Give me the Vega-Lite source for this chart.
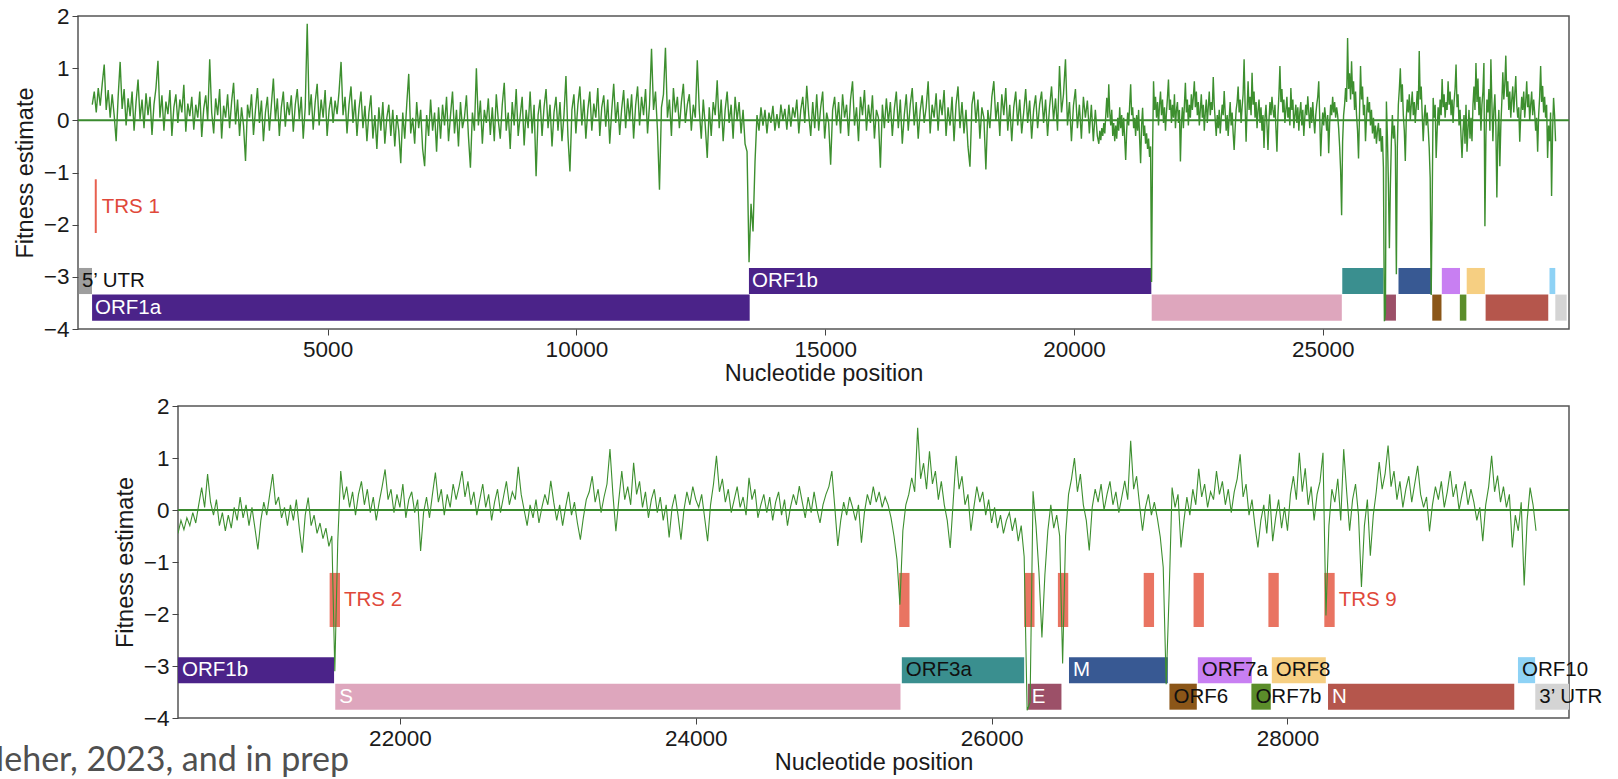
{
"$schema":"https://vega.github.io/schema/vega-lite/v6.json",
"background":"white",
"padding":{"left":-22,"top":4,"right":5,"bottom":0},
"spacing":8,
"config":{
"view":{"stroke":"#555","strokeWidth":1.5},
"axis":{"labelFont":"Liberation Sans","titleFont":"Liberation Sans","labelFontSize":22.5,"titleFontSize":23.5,"labelColor":"#1a1a1a","titleColor":"#1a1a1a","titleFontWeight":"normal","grid":false,"domain":false,"tickColor":"#444","tickSize":6,"labelPadding":3,"labelOverlap":false},
"text":{"font":"Liberation Sans"}
},
"datasets":{
"genes":[
{"g":"5’ UTR","s":1,"e":265,"lane":"upper"},
{"g":"ORF1a","s":266,"e":13483,"lane":"lower"},
{"g":"ORF1b","s":13468,"e":21555,"lane":"upper"},
{"g":"S","s":21563,"e":25384,"lane":"lower"},
{"g":"ORF3a","s":25393,"e":26220,"lane":"upper"},
{"g":"E","s":26245,"e":26472,"lane":"lower"},
{"g":"M","s":26523,"e":27191,"lane":"upper"},
{"g":"ORF6","s":27202,"e":27387,"lane":"lower"},
{"g":"ORF7a","s":27394,"e":27759,"lane":"upper"},
{"g":"ORF7b","s":27756,"e":27887,"lane":"lower"},
{"g":"ORF8","s":27894,"e":28259,"lane":"upper"},
{"g":"N","s":28274,"e":29533,"lane":"lower"},
{"g":"ORF10","s":29558,"e":29674,"lane":"upper"},
{"g":"3’ UTR","s":29675,"e":29903,"lane":"lower"}
],
"trs":[
{"t":"TRS 1","s":320,"e":360},{"t":"TRS 2","s":21525,"e":21595},{"t":"TRS 3","s":25375,"e":25445},{"t":"TRS 4","s":26220,"e":26290},{"t":"TRS 5","s":26448,"e":26518},{"t":"TRS 6","s":27028,"e":27098},{"t":"TRS 7","s":27365,"e":27435},{"t":"TRS 8","s":27871,"e":27941},{"t":"TRS 9","s":28249,"e":28319}
],
"fit":[
{"p":270,"f":0.3},{"p":310,"f":0.55},{"p":350,"f":0.15},{"p":390,"f":0.62},{"p":430,"f":0.28},{"p":470,"f":0.7},{"p":510,"f":1.07},{"p":550,"f":0.2},{"p":590,"f":0.58},{"p":630,"f":0.05},{"p":670,"f":0.5},{"p":710,"f":0.1},{"p":750,"f":-0.4},{"p":790,"f":0.45},{"p":830,"f":1.12},{"p":870,"f":0.22},{"p":910,"f":0.6},{"p":950,"f":-0.1},{"p":990,"f":0.42},{"p":1030,"f":0.08},{"p":1070,"f":0.55},{"p":1110,"f":-0.2},{"p":1150,"f":0.35},{"p":1190,"f":0.78},{"p":1230,"f":0.02},
{"p":1270,"f":0.4},{"p":1310,"f":-0.15},{"p":1350,"f":0.52},{"p":1390,"f":0.1},{"p":1430,"f":0.45},{"p":1470,"f":-0.28},{"p":1510,"f":0.3},{"p":1550,"f":0.62},{"p":1590,"f":1.14},{"p":1630,"f":0.05},{"p":1670,"f":0.48},{"p":1710,"f":-0.2},{"p":1750,"f":0.36},{"p":1790,"f":0.12},{"p":1830,"f":0.58},{"p":1870,"f":-0.3},{"p":1910,"f":0.25},{"p":1950,"f":0.5},{"p":1990,"f":-0.05},{"p":2030,"f":0.4},{"p":2070,"f":0.15},{"p":2110,"f":0.68},{"p":2150,"f":-0.22},{"p":2190,"f":0.32},{"p":2230,"f":0.08},
{"p":2270,"f":0.45},{"p":2310,"f":-0.18},{"p":2350,"f":0.3},{"p":2390,"f":0.05},{"p":2430,"f":0.55},{"p":2470,"f":-0.32},{"p":2510,"f":0.22},{"p":2550,"f":0.48},{"p":2590,"f":0},{"p":2630,"f":1.17},{"p":2670,"f":0.15},{"p":2710,"f":-0.25},{"p":2750,"f":0.42},{"p":2790,"f":0.1},{"p":2830,"f":0.6},{"p":2870,"f":-0.35},{"p":2910,"f":0.28},{"p":2950,"f":0.05},{"p":2990,"f":0.5},{"p":3030,"f":-0.15},{"p":3070,"f":0.35},{"p":3110,"f":0.72},{"p":3150,"f":-0.08},{"p":3190,"f":0.4},{"p":3230,"f":-0.3},
{"p":3270,"f":0.25},{"p":3310,"f":-0.1},{"p":3350,"f":-0.78},{"p":3390,"f":0.3},{"p":3430,"f":0.05},{"p":3470,"f":0.5},{"p":3510,"f":-0.28},{"p":3550,"f":0.2},{"p":3590,"f":0.62},{"p":3630,"f":-0.05},{"p":3670,"f":0.38},{"p":3710,"f":-0.4},{"p":3750,"f":0.15},{"p":3790,"f":0.45},{"p":3830,"f":-0.2},{"p":3870,"f":0.3},{"p":3910,"f":0.8},{"p":3950,"f":0},{"p":3990,"f":0.42},{"p":4030,"f":-0.3},{"p":4070,"f":0.25},{"p":4110,"f":0.55},{"p":4150,"f":-0.12},{"p":4190,"f":0.35},{"p":4230,"f":0.1},
{"p":4270,"f":0.48},{"p":4310,"f":-0.22},{"p":4350,"f":0.3},{"p":4390,"f":0.6},{"p":4430,"f":0.02},{"p":4470,"f":0.45},{"p":4510,"f":-0.35},{"p":4550,"f":0.25},{"p":4590,"f":1.85},{"p":4630,"f":0.1},{"p":4670,"f":0.5},{"p":4710,"f":-0.18},{"p":4750,"f":0.35},{"p":4790,"f":0.7},{"p":4830,"f":-0.1},{"p":4870,"f":0.4},{"p":4910,"f":0.05},{"p":4950,"f":0.58},{"p":4990,"f":-0.3},{"p":5030,"f":0.2},{"p":5070,"f":0.45},{"p":5110,"f":-0.05},{"p":5150,"f":0.38},{"p":5190,"f":0.12},{"p":5230,"f":0.55},
{"p":5270,"f":1.12},{"p":5310,"f":0.1},{"p":5350,"f":0.45},{"p":5390,"f":-0.25},{"p":5430,"f":0.3},{"p":5470,"f":0.65},{"p":5510,"f":-0.05},{"p":5550,"f":0.4},{"p":5590,"f":-0.3},{"p":5630,"f":0.22},{"p":5670,"f":0.55},{"p":5710,"f":-0.15},{"p":5750,"f":0.28},{"p":5790,"f":-0.4},{"p":5830,"f":0.15},{"p":5870,"f":0.48},{"p":5910,"f":-0.35},{"p":5950,"f":0.1},{"p":5990,"f":-0.55},{"p":6030,"f":0.25},{"p":6070,"f":-0.2},{"p":6110,"f":0.35},{"p":6150,"f":-0.45},{"p":6190,"f":0.05},{"p":6230,"f":0.3},
{"p":6270,"f":-0.3},{"p":6310,"f":0.2},{"p":6350,"f":-0.5},{"p":6390,"f":0.1},{"p":6430,"f":-0.2},{"p":6470,"f":-0.82},{"p":6510,"f":0.15},{"p":6550,"f":-0.35},{"p":6590,"f":0.3},{"p":6630,"f":0.89},{"p":6670,"f":-0.25},{"p":6710,"f":0.05},{"p":6750,"f":-0.45},{"p":6790,"f":0.35},{"p":6830,"f":-0.15},{"p":6870,"f":0.2},{"p":6910,"f":-0.55},{"p":6950,"f":-0.88},{"p":6990,"f":0.1},{"p":7030,"f":-0.3},{"p":7070,"f":0.4},{"p":7110,"f":-0.2},{"p":7150,"f":0.15},{"p":7190,"f":-0.6},{"p":7230,"f":0.25},
{"p":7270,"f":-0.35},{"p":7310,"f":0.3},{"p":7350,"f":-0.1},{"p":7390,"f":0.45},{"p":7430,"f":-0.4},{"p":7470,"f":0.1},{"p":7510,"f":0.55},{"p":7550,"f":-0.25},{"p":7590,"f":0.2},{"p":7630,"f":-0.5},{"p":7670,"f":0.35},{"p":7710,"f":-0.15},{"p":7750,"f":0.05},{"p":7790,"f":0.48},{"p":7830,"f":-0.3},{"p":7870,"f":-0.91},{"p":7910,"f":0.15},{"p":7950,"f":-0.2},{"p":7990,"f":1},{"p":8030,"f":-0.1},{"p":8070,"f":0.38},{"p":8110,"f":-0.45},{"p":8150,"f":0.2},{"p":8190,"f":-0.05},{"p":8230,"f":0.42},
{"p":8270,"f":-0.28},{"p":8310,"f":0.25},{"p":8350,"f":-0.4},{"p":8390,"f":0.5},{"p":8430,"f":0},{"p":8470,"f":-0.35},{"p":8510,"f":0.3},{"p":8550,"f":0.72},{"p":8590,"f":-0.2},{"p":8630,"f":0.15},{"p":8670,"f":-0.55},{"p":8710,"f":0.35},{"p":8750,"f":-0.1},{"p":8790,"f":0.6},{"p":8830,"f":-0.3},{"p":8870,"f":0.08},{"p":8910,"f":0.45},{"p":8950,"f":-0.48},{"p":8990,"f":0.2},{"p":9030,"f":-0.15},{"p":9070,"f":0.55},{"p":9110,"f":-0.25},{"p":9150,"f":0.3},{"p":9190,"f":-1.07},{"p":9230,"f":0.1},
{"p":9270,"f":0.4},{"p":9310,"f":-0.3},{"p":9350,"f":0.25},{"p":9390,"f":0.6},{"p":9430,"f":-0.15},{"p":9470,"f":0.3},{"p":9510,"f":-0.5},{"p":9550,"f":0.15},{"p":9590,"f":0.45},{"p":9630,"f":-0.2},{"p":9670,"f":0.35},{"p":9710,"f":-0.4},{"p":9750,"f":0.1},{"p":9790,"f":0.85},{"p":9830,"f":-0.3},{"p":9870,"f":-0.98},{"p":9910,"f":0.2},{"p":9950,"f":0.5},{"p":9990,"f":-0.25},{"p":10030,"f":0.3},{"p":10070,"f":0.65},{"p":10110,"f":-0.1},{"p":10150,"f":0.4},{"p":10190,"f":-0.35},{"p":10230,"f":0.2},
{"p":10270,"f":0.55},{"p":10310,"f":-0.2},{"p":10350,"f":0.32},{"p":10390,"f":0.05},{"p":10430,"f":0.62},{"p":10470,"f":-0.3},{"p":10510,"f":0.25},{"p":10550,"f":0.48},{"p":10590,"f":-0.12},{"p":10630,"f":0.4},{"p":10670,"f":-0.45},{"p":10710,"f":0.18},{"p":10750,"f":0.7},{"p":10790,"f":-0.05},{"p":10830,"f":0.35},{"p":10870,"f":-0.28},{"p":10910,"f":0.22},{"p":10950,"f":0.58},{"p":10990,"f":-0.15},{"p":11030,"f":0.42},{"p":11070,"f":0},{"p":11110,"f":0.5},{"p":11150,"f":-0.35},{"p":11190,"f":0.28},{"p":11230,"f":0.65},
{"p":11270,"f":-0.1},{"p":11310,"f":0.45},{"p":11350,"f":0.1},{"p":11390,"f":0.6},{"p":11430,"f":-0.25},{"p":11470,"f":0.3},{"p":11510,"f":1.37},{"p":11550,"f":0.2},{"p":11590,"f":0.55},{"p":11630,"f":-0.2},{"p":11670,"f":-1.33},{"p":11710,"f":0.25},{"p":11750,"f":0.5},{"p":11790,"f":1.39},{"p":11830,"f":0.05},{"p":11870,"f":0.4},{"p":11910,"f":-0.3},{"p":11950,"f":0.62},{"p":11990,"f":0.15},{"p":12030,"f":0.45},{"p":12070,"f":-0.15},{"p":12110,"f":0.35},{"p":12150,"f":0.7},{"p":12190,"f":-0.05},{"p":12230,"f":0.3},
{"p":12270,"f":0.5},{"p":12310,"f":-0.2},{"p":12350,"f":0.3},{"p":12390,"f":0.05},{"p":12430,"f":1.15},{"p":12470,"f":0.2},{"p":12510,"f":-0.35},{"p":12550,"f":0.4},{"p":12590,"f":-0.1},{"p":12630,"f":-0.72},{"p":12670,"f":0.25},{"p":12710,"f":-0.3},{"p":12750,"f":0.35},{"p":12790,"f":0.1},{"p":12830,"f":0.77},{"p":12870,"f":-0.15},{"p":12910,"f":0.4},{"p":12950,"f":-0.4},{"p":12990,"f":0.2},{"p":13030,"f":0.55},{"p":13070,"f":-0.05},{"p":13110,"f":0.3},{"p":13150,"f":-0.35},{"p":13190,"f":0.45},{"p":13230,"f":0},
{"p":13270,"f":0.35},{"p":13310,"f":-0.25},{"p":13350,"f":0.2},{"p":13390,"f":-0.45},{"p":13430,"f":-0.6},{"p":13470,"f":-2.72},{"p":13510,"f":-1.6},{"p":13550,"f":-2.13},{"p":13590,"f":-0.8},{"p":13630,"f":0.1},{"p":13670,"f":-0.2},{"p":13710,"f":0.25},{"p":13750,"f":-0.1},{"p":13790,"f":0.2},{"p":13830,"f":-0.25},{"p":13870,"f":0.15},{"p":13910,"f":-0.05},{"p":13950,"f":0.28},{"p":13990,"f":-0.2},{"p":14030,"f":0.12},{"p":14070,"f":-0.15},{"p":14110,"f":0.3},{"p":14150,"f":0},{"p":14190,"f":0.22},{"p":14230,"f":-0.18},
{"p":14270,"f":0.3},{"p":14310,"f":-0.12},{"p":14350,"f":0.25},{"p":14390,"f":0.05},{"p":14430,"f":0.4},{"p":14470,"f":-0.25},{"p":14510,"f":0.2},{"p":14550,"f":0.45},{"p":14590,"f":-0.05},{"p":14630,"f":0.66},{"p":14670,"f":0.1},{"p":14710,"f":-0.3},{"p":14750,"f":0.35},{"p":14790,"f":-0.15},{"p":14830,"f":0.5},{"p":14870,"f":-0.2},{"p":14910,"f":0.25},{"p":14950,"f":0.55},{"p":14990,"f":-0.35},{"p":15030,"f":0.15},{"p":15070,"f":-0.05},{"p":15110,"f":-0.85},{"p":15150,"f":0.2},{"p":15190,"f":0.45},{"p":15230,"f":-0.1},
{"p":15270,"f":0.35},{"p":15310,"f":-0.25},{"p":15350,"f":0.5},{"p":15390,"f":0.05},{"p":15430,"f":0.3},{"p":15470,"f":-0.3},{"p":15510,"f":0.4},{"p":15550,"f":0.75},{"p":15590,"f":-0.1},{"p":15630,"f":0.25},{"p":15670,"f":-0.4},{"p":15710,"f":0.45},{"p":15750,"f":0.1},{"p":15790,"f":0.58},{"p":15830,"f":-0.2},{"p":15870,"f":0.3},{"p":15910,"f":-0.05},{"p":15950,"f":0.48},{"p":15990,"f":-0.35},{"p":16030,"f":0.2},{"p":16070,"f":0.05},{"p":16110,"f":-0.91},{"p":16150,"f":0.3},{"p":16190,"f":-0.15},{"p":16230,"f":0.42},
{"p":16270,"f":-0.05},{"p":16310,"f":0.35},{"p":16350,"f":-0.3},{"p":16390,"f":0.22},{"p":16430,"f":0.55},{"p":16470,"f":-0.15},{"p":16510,"f":0.4},{"p":16550,"f":-0.45},{"p":16590,"f":0.1},{"p":16630,"f":0.5},{"p":16670,"f":-0.2},{"p":16710,"f":0.3},{"p":16750,"f":0.62},{"p":16790,"f":-0.1},{"p":16830,"f":0.35},{"p":16870,"f":-0.35},{"p":16910,"f":0.18},{"p":16950,"f":0.48},{"p":16990,"f":-0.05},{"p":17030,"f":0.25},{"p":17070,"f":0.75},{"p":17110,"f":-0.25},{"p":17150,"f":0.3},{"p":17190,"f":0.05},{"p":17230,"f":0.52},
{"p":17270,"f":-0.2},{"p":17310,"f":0.4},{"p":17350,"f":0.1},{"p":17390,"f":0.58},{"p":17430,"f":-0.3},{"p":17470,"f":0.25},{"p":17510,"f":-0.1},{"p":17550,"f":0.45},{"p":17590,"f":-0.4},{"p":17630,"f":0.3},{"p":17670,"f":0.65},{"p":17710,"f":-0.15},{"p":17750,"f":0.35},{"p":17790,"f":-0.25},{"p":17830,"f":0.2},{"p":17870,"f":-0.5},{"p":17910,"f":-0.89},{"p":17950,"f":0.3},{"p":17990,"f":0.55},{"p":18030,"f":-0.05},{"p":18070,"f":0.4},{"p":18110,"f":-0.35},{"p":18150,"f":0.25},{"p":18190,"f":0.05},{"p":18230,"f":-0.94},
{"p":18270,"f":0.2},{"p":18310,"f":-0.15},{"p":18350,"f":0.45},{"p":18390,"f":0.75},{"p":18430,"f":0},{"p":18470,"f":0.35},{"p":18510,"f":-0.3},{"p":18550,"f":0.5},{"p":18590,"f":0.1},{"p":18630,"f":0.62},{"p":18670,"f":-0.2},{"p":18710,"f":0.3},{"p":18750,"f":-0.4},{"p":18790,"f":0.25},{"p":18830,"f":0.55},{"p":18870,"f":-0.1},{"p":18910,"f":0.4},{"p":18950,"f":-0.25},{"p":18990,"f":0.15},{"p":19030,"f":0.6},{"p":19070,"f":-0.05},{"p":19110,"f":0.38},{"p":19150,"f":-0.35},{"p":19190,"f":0.2},{"p":19230,"f":0.48},
{"p":19270,"f":-0.15},{"p":19310,"f":0.3},{"p":19350,"f":0.55},{"p":19390,"f":-0.05},{"p":19430,"f":0.4},{"p":19470,"f":-0.3},{"p":19510,"f":0.25},{"p":19550,"f":0.65},{"p":19590,"f":0},{"p":19630,"f":0.42},{"p":19670,"f":-0.2},{"p":19710,"f":1.04},{"p":19750,"f":0.15},{"p":19790,"f":0.5},{"p":19830,"f":1.17},{"p":19870,"f":-0.1},{"p":19910,"f":0.35},{"p":19950,"f":-0.4},{"p":19990,"f":0.28},{"p":20030,"f":0.6},{"p":20070,"f":-0.15},{"p":20110,"f":0.3},{"p":20150,"f":-0.35},{"p":20190,"f":0.45},{"p":20230,"f":0.05},
{"p":20270,"f":0.38},{"p":20310,"f":-0.25},{"p":20350,"f":0.3},{"p":20390,"f":-0.4},{"p":20430,"f":0.2},{"p":20470,"f":-0.3},
{"p":20500,"f":-0.45},{"p":20520,"f":-0.2},{"p":20540,"f":-0.38},{"p":20560,"f":-0.15},{"p":20580,"f":-0.3},{"p":20600,"f":-0.05},{"p":20620,"f":-0.25},{"p":20640,"f":0.1},{"p":20660,"f":0.43},{"p":20680,"f":0.05},{"p":20700,"f":0.69},{"p":20720,"f":0.15},{"p":20740,"f":-0.1},{"p":20760,"f":0.2},{"p":20780,"f":-0.3},{"p":20800,"f":-0.05},{"p":20820,"f":-0.4},{"p":20840,"f":-0.1},{"p":20860,"f":-0.35},{"p":20880,"f":0.05},{"p":20900,"f":-0.2},{"p":20920,"f":0.25},{"p":20940,"f":-0.15},{"p":20960,"f":0.1},{"p":20980,"f":-0.3},{"p":21000,"f":0.05},{"p":21020,"f":-0.35},{"p":21040,"f":-0.76},{"p":21060,"f":-0.2},{"p":21080,"f":0.15},{"p":21100,"f":-0.1},{"p":21120,"f":0.3},{"p":21140,"f":0.69},{"p":21160,"f":0.1},{"p":21180,"f":0.25},{"p":21200,"f":-0.15},{"p":21220,"f":0.05},{"p":21240,"f":-0.3},{"p":21260,"f":0.1},{"p":21280,"f":-0.2},{"p":21300,"f":0.2},{"p":21320,"f":-0.35},{"p":21340,"f":-0.82},{"p":21360,"f":-0.1},{"p":21380,"f":0.24},{"p":21400,"f":-0.3},{"p":21420,"f":-0.1},{"p":21440,"f":-0.45},{"p":21460,"f":-0.25},{"p":21480,"f":-0.55},
{"p":21500,"f":-0.35},{"p":21520,"f":-0.7},{"p":21540,"f":-0.5},{"p":21560,"f":-3.1},{"p":21580,"f":-0.6},{"p":21600,"f":0.75},{"p":21620,"f":0.2},{"p":21640,"f":0.45},{"p":21660,"f":0.05},{"p":21680,"f":0.35},{"p":21700,"f":-0.1},{"p":21720,"f":0.3},{"p":21740,"f":0.55},{"p":21760,"f":0.1},{"p":21780,"f":0.4},{"p":21800,"f":-0.05},{"p":21820,"f":0.25},{"p":21840,"f":-0.2},{"p":21860,"f":0.15},{"p":21880,"f":0.45},{"p":21900,"f":0.78},{"p":21920,"f":0.2},{"p":21940,"f":0.4},{"p":21960,"f":-0.05},{"p":21980,"f":0.3},{"p":22000,"f":0.05},{"p":22020,"f":0.5},{"p":22040,"f":-0.15},{"p":22060,"f":0.2},{"p":22080,"f":0.35},{"p":22100,"f":-0.05},{"p":22120,"f":0.2},{"p":22140,"f":-0.79},{"p":22160,"f":-0.05},{"p":22180,"f":0.25},{"p":22200,"f":-0.15},{"p":22220,"f":0.3},{"p":22240,"f":0.72},{"p":22260,"f":0.15},{"p":22280,"f":0.4},{"p":22300,"f":-0.1},{"p":22320,"f":0.3},{"p":22340,"f":0.05},{"p":22360,"f":0.5},{"p":22380,"f":0.2},{"p":22400,"f":0.45},{"p":22420,"f":0.75},{"p":22440,"f":0.25},{"p":22460,"f":0.55},{"p":22480,"f":0.1},
{"p":22500,"f":0.35},{"p":22520,"f":-0.1},{"p":22540,"f":0.2},{"p":22560,"f":0.5},{"p":22580,"f":0.05},{"p":22600,"f":0.3},{"p":22620,"f":-0.2},{"p":22640,"f":0.15},{"p":22660,"f":0.4},{"p":22680,"f":-0.05},{"p":22700,"f":0.25},{"p":22720,"f":0.55},{"p":22740,"f":0.1},{"p":22760,"f":0.35},{"p":22780,"f":0.2},{"p":22800,"f":0.83},{"p":22820,"f":0.3},{"p":22840,"f":0},{"p":22860,"f":-0.3},{"p":22880,"f":0.1},{"p":22900,"f":-0.15},{"p":22920,"f":0.2},{"p":22940,"f":-0.25},{"p":22960,"f":0.05},{"p":22980,"f":0.3},{"p":23000,"f":0.1},{"p":23020,"f":0.56},{"p":23040,"f":0.15},{"p":23060,"f":-0.2},{"p":23080,"f":0.1},{"p":23100,"f":-0.3},{"p":23120,"f":0.05},{"p":23140,"f":0.35},{"p":23160,"f":-0.1},{"p":23180,"f":0.15},{"p":23200,"f":-0.25},{"p":23220,"f":-0.57},{"p":23240,"f":-0.15},{"p":23260,"f":0.2},{"p":23280,"f":0.35},{"p":23300,"f":0.65},{"p":23320,"f":0.15},{"p":23340,"f":0.4},{"p":23360,"f":-0.05},{"p":23380,"f":0.25},{"p":23400,"f":0.5},{"p":23420,"f":1.17},{"p":23440,"f":0.3},{"p":23460,"f":-0.41},{"p":23480,"f":0.2},
{"p":23500,"f":0.75},{"p":23520,"f":0.2},{"p":23540,"f":0.45},{"p":23560,"f":0.1},{"p":23580,"f":0.91},{"p":23600,"f":0.3},{"p":23620,"f":0.55},{"p":23640,"f":0.05},{"p":23660,"f":0.35},{"p":23680,"f":-0.15},{"p":23700,"f":0.2},{"p":23720,"f":0.4},{"p":23740,"f":-0.05},{"p":23760,"f":0.25},{"p":23780,"f":-0.2},{"p":23800,"f":0.1},{"p":23820,"f":-0.53},{"p":23840,"f":0.05},{"p":23860,"f":0.3},{"p":23880,"f":-0.1},{"p":23900,"f":-0.57},{"p":23920,"f":0},{"p":23940,"f":0.35},{"p":23960,"f":0.1},{"p":23980,"f":0.45},{"p":24000,"f":0.2},{"p":24020,"f":0.05},{"p":24040,"f":0.3},{"p":24060,"f":-0.15},{"p":24080,"f":-0.6},{"p":24100,"f":0.1},{"p":24120,"f":0.5},{"p":24140,"f":1.04},{"p":24160,"f":0.35},{"p":24180,"f":0.6},{"p":24200,"f":0.15},{"p":24220,"f":0.4},{"p":24240,"f":-0.05},{"p":24260,"f":0.2},{"p":24280,"f":0.45},{"p":24300,"f":0.05},{"p":24320,"f":0.25},{"p":24340,"f":-0.1},{"p":24360,"f":0.62},{"p":24380,"f":0.2},{"p":24400,"f":0.4},{"p":24420,"f":-0.15},{"p":24440,"f":0.1},{"p":24460,"f":0.3},{"p":24480,"f":-0.05},
{"p":24500,"f":0.25},{"p":24520,"f":-0.2},{"p":24540,"f":0.15},{"p":24560,"f":0.35},{"p":24580,"f":-0.1},{"p":24600,"f":0.2},{"p":24620,"f":-0.3},{"p":24640,"f":0.05},{"p":24660,"f":0.3},{"p":24680,"f":0.1},{"p":24700,"f":0.46},{"p":24720,"f":0.15},{"p":24740,"f":-0.15},{"p":24760,"f":0.25},{"p":24780,"f":-0.05},{"p":24800,"f":0.35},{"p":24820,"f":0},{"p":24840,"f":-0.25},{"p":24860,"f":0.1},{"p":24880,"f":0.3},{"p":24900,"f":0.45},{"p":24920,"f":0.75},{"p":24940,"f":0.05},{"p":24960,"f":-0.69},{"p":24980,"f":-0.2},{"p":25000,"f":0.15},{"p":25020,"f":-0.1},{"p":25040,"f":0.25},{"p":25060,"f":0.05},{"p":25080,"f":-0.2},{"p":25100,"f":0.1},{"p":25120,"f":-0.63},{"p":25140,"f":-0.05},{"p":25160,"f":0.3},{"p":25180,"f":0.1},{"p":25200,"f":0.45},{"p":25220,"f":0.15},{"p":25240,"f":0.35},{"p":25260,"f":0.05},{"p":25280,"f":0.25},{"p":25300,"f":0.1},{"p":25320,"f":-0.15},{"p":25340,"f":-0.5},{"p":25360,"f":-0.95},{"p":25380,"f":-1.82},{"p":25400,"f":-0.4},{"p":25420,"f":0.1},{"p":25440,"f":0.3},{"p":25460,"f":0.62},{"p":25480,"f":0.35},
{"p":25500,"f":1.58},{"p":25520,"f":0.6},{"p":25540,"f":0.9},{"p":25560,"f":0.4},{"p":25580,"f":1.13},{"p":25600,"f":0.5},{"p":25620,"f":0.75},{"p":25640,"f":0.2},{"p":25660,"f":0.55},{"p":25680,"f":0.1},{"p":25700,"f":-0.2},{"p":25720,"f":-0.73},{"p":25740,"f":0.15},{"p":25760,"f":1.04},{"p":25780,"f":0.4},{"p":25800,"f":0.65},{"p":25820,"f":0.1},{"p":25840,"f":0.3},{"p":25860,"f":-0.4},{"p":25880,"f":0.05},{"p":25900,"f":0.45},{"p":25920,"f":0.15},{"p":25940,"f":0.35},{"p":25960,"f":-0.1},{"p":25980,"f":0.2},{"p":26000,"f":-0.25},{"p":26020,"f":0.05},{"p":26040,"f":-0.35},{"p":26060,"f":-0.1},{"p":26080,"f":-0.45},{"p":26100,"f":-0.2},{"p":26120,"f":-0.05},{"p":26140,"f":-0.4},{"p":26160,"f":-0.15},{"p":26180,"f":-0.6},{"p":26200,"f":-0.3},{"p":26220,"f":-0.9},{"p":26240,"f":-3.85},{"p":26260,"f":-3.7},{"p":26280,"f":0.36},{"p":26300,"f":-0.3},{"p":26320,"f":-1.2},{"p":26340,"f":-2.45},{"p":26360,"f":-1.25},{"p":26380,"f":-0.4},{"p":26400,"f":0.1},{"p":26420,"f":-0.35},{"p":26440,"f":-0.1},{"p":26460,"f":-0.5},{"p":26480,"f":-2.95},
{"p":26500,"f":-0.5},{"p":26520,"f":0.3},{"p":26540,"f":0.6},{"p":26560,"f":1},{"p":26580,"f":0.35},{"p":26600,"f":0.69},{"p":26620,"f":0.1},{"p":26640,"f":-0.2},{"p":26660,"f":-0.78},{"p":26680,"f":0.05},{"p":26700,"f":0.4},{"p":26720,"f":0.15},{"p":26740,"f":0.5},{"p":26760,"f":0},{"p":26780,"f":0.3},{"p":26800,"f":0.55},{"p":26820,"f":0.1},{"p":26840,"f":0.35},{"p":26860,"f":-0.05},{"p":26880,"f":0.25},{"p":26900,"f":0.56},{"p":26920,"f":0.2},{"p":26940,"f":1.33},{"p":26960,"f":0.4},{"p":26980,"f":0.65},{"p":27000,"f":0.1},{"p":27020,"f":-0.4},{"p":27040,"f":0.05},{"p":27060,"f":0.3},{"p":27080,"f":-0.1},{"p":27100,"f":0.15},{"p":27120,"f":-0.15},{"p":27140,"f":-0.52},{"p":27160,"f":-1.1},{"p":27180,"f":-3.35},{"p":27200,"f":-1.6},{"p":27220,"f":0.43},{"p":27240,"f":0.05},{"p":27260,"f":0.3},{"p":27280,"f":-0.72},{"p":27300,"f":-0.2},{"p":27320,"f":0.25},{"p":27340,"f":-0.1},{"p":27360,"f":0.4},{"p":27380,"f":0.1},{"p":27400,"f":0.79},{"p":27420,"f":0.25},{"p":27440,"f":0.5},{"p":27460,"f":0.05},{"p":27480,"f":0.35},
{"p":27500,"f":0.2},{"p":27520,"f":0.75},{"p":27540,"f":0.3},{"p":27560,"f":0.55},{"p":27580,"f":0.1},{"p":27600,"f":0.4},{"p":27620,"f":-0.05},{"p":27640,"f":0.35},{"p":27660,"f":0.6},{"p":27680,"f":1.07},{"p":27700,"f":0.25},{"p":27720,"f":0.5},{"p":27740,"f":-0.1},{"p":27760,"f":0.2},{"p":27780,"f":-0.3},{"p":27800,"f":-0.72},{"p":27820,"f":-0.2},{"p":27840,"f":0.1},{"p":27860,"f":-0.45},{"p":27880,"f":0.3},{"p":27900,"f":-0.6},{"p":27920,"f":-0.15},{"p":27940,"f":0.2},{"p":27960,"f":-0.35},{"p":27980,"f":0.05},{"p":28000,"f":-0.4},{"p":28020,"f":0.3},{"p":28040,"f":0.65},{"p":28060,"f":0.2},{"p":28080,"f":1.1},{"p":28100,"f":0.35},{"p":28120,"f":0.8},{"p":28140,"f":0.1},{"p":28160,"f":0.45},{"p":28180,"f":-0.2},{"p":28200,"f":0.3},{"p":28220,"f":0.55},{"p":28240,"f":1.1},{"p":28260,"f":-2.03},{"p":28280,"f":-0.3},{"p":28300,"f":0.4},{"p":28320,"f":0.15},{"p":28340,"f":0.6},{"p":28360,"f":-0.2},{"p":28380,"f":1.17},{"p":28400,"f":0.35},{"p":28420,"f":-0.4},{"p":28440,"f":0.2},{"p":28460,"f":0.5},{"p":28480,"f":-0.1},
{"p":28500,"f":-1.48},{"p":28520,"f":-0.3},{"p":28540,"f":0.2},{"p":28560,"f":-0.88},{"p":28580,"f":-0.1},{"p":28600,"f":0.35},{"p":28620,"f":0.92},{"p":28640,"f":0.4},{"p":28660,"f":0.7},{"p":28680,"f":1.24},{"p":28700,"f":0.45},{"p":28720,"f":0.75},{"p":28740,"f":0.2},{"p":28760,"f":0.55},{"p":28780,"f":0.05},{"p":28800,"f":0.4},{"p":28820,"f":0.65},{"p":28840,"f":0.15},{"p":28860,"f":0.5},{"p":28880,"f":0.85},{"p":28900,"f":0.3},{"p":28920,"f":0.05},{"p":28940,"f":0.25},{"p":28960,"f":-0.41},{"p":28980,"f":0.1},{"p":29000,"f":0.45},{"p":29020,"f":0.2},{"p":29040,"f":0.55},{"p":29060,"f":0.05},{"p":29080,"f":0.35},{"p":29100,"f":0.75},{"p":29120,"f":0.25},{"p":29140,"f":0.5},{"p":29160,"f":0},{"p":29180,"f":0.3},{"p":29200,"f":0.55},{"p":29220,"f":0.1},{"p":29240,"f":0.4},{"p":29260,"f":0.15},{"p":29280,"f":-0.2},{"p":29300,"f":0.05},{"p":29320,"f":-0.6},{"p":29340,"f":0.1},{"p":29360,"f":0.45},{"p":29380,"f":1.04},{"p":29400,"f":0.35},{"p":29420,"f":0.66},{"p":29440,"f":0.15},{"p":29460,"f":0.45},{"p":29480,"f":0.05},
{"p":29500,"f":0.3},{"p":29520,"f":-0.72},{"p":29540,"f":-0.1},{"p":29560,"f":-0.4},{"p":29580,"f":0.15},{"p":29600,"f":-1.45},{"p":29620,"f":-0.2},{"p":29640,"f":0.43},{"p":29660,"f":0.1},{"p":29680,"f":-0.4}
]
},
"vconcat":[
{
"width":1491,"height":313,
"layer":[
{"data":{"name":"genes"},"transform":[{"filter":"datum.lane === 'upper'"}],"mark":{"type":"rect","clip":true},
"encoding":{
"x":{"field":"s","type":"quantitative","title":"Nucleotide position","scale":{"domain":[-17,29950],"nice":false,"zero":false},"axis":{"values":[5000,10000,15000,20000,25000],"format":"d","titlePadding":1}},
"x2":{"field":"e"},
"y":{"datum":-2.83,"type":"quantitative","title":"Fitness estimate","scale":{"domain":[-4,2],"nice":false,"zero":false},"axis":{"values":[-4,-3,-2,-1,0,1,2],"format":"d","titlePadding":6}},
"y2":{"datum":-3.33},
"color":{"field":"g","type":"nominal","legend":null,"scale":{"domain":["5’ UTR","ORF1a","ORF1b","S","ORF3a","E","M","ORF6","ORF7a","ORF7b","ORF8","N","ORF10","3’ UTR"],"range":["#9e9e9e","#4b2389","#4b2389","#dea6bd","#3a8f8f","#9c5068","#385993","#8b5618","#c87ff2","#5b8d2a","#f6cf82","#b5564c","#8ed2f5","#d4d4d4"]}}
}},
{"data":{"name":"genes"},"transform":[{"filter":"datum.lane === 'lower'"}],"mark":{"type":"rect","clip":true},
"encoding":{
"x":{"field":"s","type":"quantitative","title":"Nucleotide position"},
"x2":{"field":"e"},
"y":{"datum":-3.34,"type":"quantitative","title":"Fitness estimate"},
"y2":{"datum":-3.84},
"color":{"field":"g","type":"nominal","legend":null}
}},
{"data":{"name":"trs"},"transform":[{"filter":"datum.t === 'TRS 1'"}],"mark":{"type":"rect","color":"#e8604f"},
"encoding":{
"x":{"field":"s","type":"quantitative","title":"Nucleotide position"},
"x2":{"field":"e"},
"y":{"datum":-1.13,"type":"quantitative","title":"Fitness estimate"},
"y2":{"datum":-2.16}
}},
{"data":{"name":"trs"},"transform":[{"filter":"datum.t === 'TRS 1'"}],"mark":{"type":"text","align":"left","baseline":"middle","dx":5,"fontSize":20.5,"color":"#e0483a"},
"encoding":{
"x":{"field":"e","type":"quantitative","title":"Nucleotide position"},
"y":{"datum":-1.66,"type":"quantitative","title":"Fitness estimate"},
"text":{"field":"t"}
}},
{"data":{"name":"genes"},"transform":[{"filter":{"field":"g","oneOf":["5’ UTR","ORF1b"]}}],"mark":{"type":"text","align":"left","baseline":"middle","dx":3,"fontSize":20.5},
"encoding":{
"x":{"field":"s","type":"quantitative","title":"Nucleotide position"},
"y":{"datum":-3.08,"type":"quantitative","title":"Fitness estimate"},
"text":{"field":"g"},
"fill":{"field":"g","type":"nominal","legend":null,"scale":{"domain":["5’ UTR","ORF1a","ORF1b","S","ORF3a","E","M","ORF6","ORF7a","ORF7b","ORF8","N","ORF10","3’ UTR"],"range":["#111","#fff","#fff","#fff","#111","#fff","#fff","#111","#111","#111","#111","#fff","#111","#111"]}}
}},
{"data":{"name":"genes"},"transform":[{"filter":{"field":"g","oneOf":["ORF1a"]}}],"mark":{"type":"text","align":"left","baseline":"middle","dx":3,"fontSize":20.5},
"encoding":{
"x":{"field":"s","type":"quantitative","title":"Nucleotide position"},
"y":{"datum":-3.59,"type":"quantitative","title":"Fitness estimate"},
"text":{"field":"g"},
"fill":{"field":"g","type":"nominal","legend":null}
}},
{"data":{"values":[{"z":0}]},"mark":{"type":"rule","color":"#3a8a2e","strokeWidth":2},
"encoding":{"y":{"field":"z","type":"quantitative","title":"Fitness estimate"}}},
{"data":{"name":"fit"},"mark":{"type":"line","color":"#3d8f2f","strokeWidth":1.4,"clip":true},
"encoding":{
"x":{"field":"p","type":"quantitative","title":"Nucleotide position"},
"y":{"field":"f","type":"quantitative","title":"Fitness estimate"}
}}
]
},
{
"hconcat":[
{"width":100,"height":1,"view":{"stroke":null},"data":{"values":[{"a":1}]},"mark":{"type":"point","opacity":0},"encoding":{}},
{
"width":1391,"height":312,
"layer":[
{"data":{"name":"genes"},"transform":[{"filter":"datum.lane === 'upper' && datum.e > 20500"}],"mark":{"type":"rect","clip":true},
"encoding":{
"x":{"field":"s","type":"quantitative","title":"Nucleotide position","scale":{"domain":[20500,29903],"nice":false,"zero":false,"clamp":true},"axis":{"values":[22000,24000,26000,28000],"format":"d","titlePadding":1}},
"x2":{"field":"e"},
"y":{"datum":-2.83,"type":"quantitative","title":"Fitness estimate","scale":{"domain":[-4,2],"nice":false,"zero":false},"axis":{"values":[-4,-3,-2,-1,0,1,2],"format":"d","titlePadding":6}},
"y2":{"datum":-3.33},
"color":{"field":"g","type":"nominal","legend":null,"scale":{"domain":["5’ UTR","ORF1a","ORF1b","S","ORF3a","E","M","ORF6","ORF7a","ORF7b","ORF8","N","ORF10","3’ UTR"],"range":["#9e9e9e","#4b2389","#4b2389","#dea6bd","#3a8f8f","#9c5068","#385993","#8b5618","#c87ff2","#5b8d2a","#f6cf82","#b5564c","#8ed2f5","#d4d4d4"]}}
}},
{"data":{"name":"genes"},"transform":[{"filter":"datum.lane === 'lower' && datum.e > 20500"}],"mark":{"type":"rect","clip":true},
"encoding":{
"x":{"field":"s","type":"quantitative","title":"Nucleotide position"},
"x2":{"field":"e"},
"y":{"datum":-3.34,"type":"quantitative","title":"Fitness estimate"},
"y2":{"datum":-3.84},
"color":{"field":"g","type":"nominal","legend":null}
}},
{"data":{"name":"trs"},"transform":[{"filter":"datum.s > 20000"}],"mark":{"type":"rect","color":"#e97462"},
"encoding":{
"x":{"field":"s","type":"quantitative","title":"Nucleotide position"},
"x2":{"field":"e"},
"y":{"datum":-1.21,"type":"quantitative","title":"Fitness estimate"},
"y2":{"datum":-2.25}
}},
{"data":{"name":"trs"},"transform":[{"filter":{"field":"t","oneOf":["TRS 2","TRS 9"]}}],"mark":{"type":"text","align":"left","baseline":"middle","dx":4,"fontSize":20.5,"color":"#e0483a"},
"encoding":{
"x":{"field":"e","type":"quantitative","title":"Nucleotide position"},
"y":{"datum":-1.74,"type":"quantitative","title":"Fitness estimate"},
"text":{"field":"t"}
}},
{"data":{"name":"genes"},"transform":[{"filter":"datum.lane === 'upper' && datum.e > 20500"}],"mark":{"type":"text","align":"left","baseline":"middle","dx":4,"fontSize":20.5},
"encoding":{
"x":{"field":"s","type":"quantitative","title":"Nucleotide position"},
"y":{"datum":-3.08,"type":"quantitative","title":"Fitness estimate"},
"text":{"field":"g"},
"fill":{"field":"g","type":"nominal","legend":null,"scale":{"domain":["5’ UTR","ORF1a","ORF1b","S","ORF3a","E","M","ORF6","ORF7a","ORF7b","ORF8","N","ORF10","3’ UTR"],"range":["#111","#fff","#fff","#fff","#111","#fff","#fff","#111","#111","#111","#111","#fff","#111","#111"]}}
}},
{"data":{"name":"genes"},"transform":[{"filter":"datum.lane === 'lower' && datum.e > 20500"}],"mark":{"type":"text","align":"left","baseline":"middle","dx":4,"fontSize":20.5},
"encoding":{
"x":{"field":"s","type":"quantitative","title":"Nucleotide position"},
"y":{"datum":-3.59,"type":"quantitative","title":"Fitness estimate"},
"text":{"field":"g"},
"fill":{"field":"g","type":"nominal","legend":null}
}},
{"data":{"values":[{"z":0}]},"mark":{"type":"rule","color":"#3a8a2e","strokeWidth":2},
"encoding":{"y":{"field":"z","type":"quantitative","title":"Fitness estimate"}}},
{"data":{"name":"fit"},"transform":[{"filter":"datum.p >= 20500"}],"mark":{"type":"line","color":"#3d8f2f","strokeWidth":1.1,"clip":true},
"encoding":{
"x":{"field":"p","type":"quantitative","title":"Nucleotide position"},
"y":{"field":"f","type":"quantitative","title":"Fitness estimate"}
}},
{"data":{"values":[{"cite":"Neher, 2023, and in prep"}]},"mark":{"type":"text","font":"Lato","fontSize":34,"color":"#505050","align":"right","baseline":"alphabetic"},
"encoding":{
"x":{"datum":21656,"type":"quantitative","title":"Nucleotide position"},
"y":{"datum":-5.02,"type":"quantitative","title":"Fitness estimate"},
"text":{"field":"cite"}
}}
]
}
],
"spacing":0,
"bounds":"flush"
}
]
}
